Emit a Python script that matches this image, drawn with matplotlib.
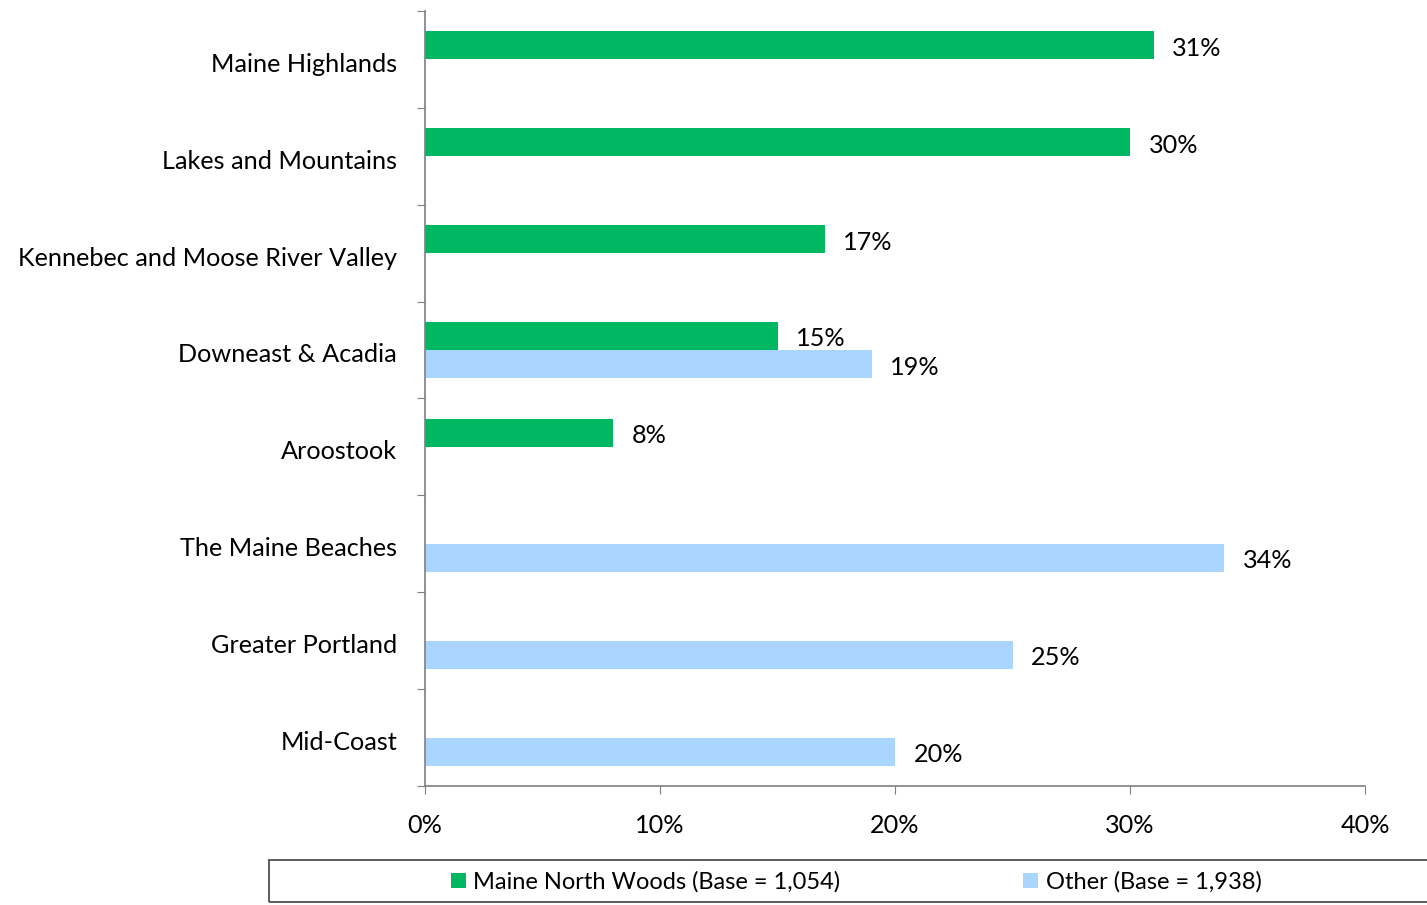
import matplotlib
matplotlib.use("Agg")
import matplotlib.pyplot as plt
import numpy as np
from matplotlib.patches import Rectangle

plt.rcParams['font.family'] = ['Lato', 'DejaVu Sans']

categories = ["Maine Highlands", "Lakes and Mountains", "Kennebec and Moose River Valley",
              "Downeast & Acadia", "Aroostook", "The Maine Beaches", "Greater Portland", "Mid-Coast"]
north_woods = [31, 30, 17, 15, 8, None, None, None]
other = [None, None, None, 19, None, 34, 25, 20]
series_names = ["Maine North Woods (Base = 1,054)", "Other (Base = 1,938)"]
x_ticks = [0, 10, 20, 30, 40]

GREEN = "#00B862"
BLUE = "#A9D5FE"
FS = 18.2
LFS = 17

fig = plt.figure(figsize=(14.27, 9.05), dpi=100)
ax = fig.add_axes([425/1427, 1-786/905, 940/1427, 775/905])

n = len(categories)
y = np.arange(n)
h = 0.29

def clean(vals):
    return np.array([np.nan if v is None else v for v in vals], dtype=float)

g = clean(north_woods)
b = clean(other)
bars_g = ax.barh(y - h/2, np.nan_to_num(g), height=h, color=GREEN, label=series_names[0])
bars_b = ax.barh(y + h/2, np.nan_to_num(b), height=h, color=BLUE, label=series_names[1])

for vals, off in ((g, -h/2), (b, h/2)):
    for i, v in enumerate(vals):
        if not np.isnan(v):
            ax.text(v + 0.8, i + off + 0.03, f"{int(v)}%", va='center', ha='left', fontsize=FS)

ax.set_xlim(0, 40)
ax.set_ylim(n - 0.5, -0.5)
ax.set_xticks(x_ticks)
ax.set_xticklabels([f"{t}%" for t in x_ticks], fontsize=FS)
ax.set_yticks(np.arange(-0.5, n, 1.0))
ax.set_yticklabels([])
ax.set_yticks(y + 0.03, minor=True)
ax.set_yticklabels(categories, minor=True, fontsize=FS)
ax.tick_params(axis='y', which='minor', length=0, pad=20)
ax.tick_params(axis='y', which='major', length=6, color='#7f7f7f', direction='out')
ax.tick_params(axis='x', which='major', length=6, color='#7f7f7f', direction='out', pad=14)

for s in ('top', 'right'):
    ax.spines[s].set_visible(False)
for s in ('left', 'bottom'):
    ax.spines[s].set_color('#7f7f7f')
    ax.spines[s].set_linewidth(1.2)

# legend box
fig.patches.append(Rectangle((269/1427, 1-902/905), 1.1, 42/905, transform=fig.transFigure,
                             fill=False, edgecolor='#404040', linewidth=1.2, clip_on=False))
fig.legend(handles=[bars_g, bars_b], labels=series_names, loc='center',
           bbox_to_anchor=(856/1427, 1-882/905), ncol=2, frameon=False, fontsize=LFS,
           handlelength=0.65, handleheight=0.65, handletextpad=0.3, columnspacing=7.75)

fig.savefig("out.png", dpi=100)
